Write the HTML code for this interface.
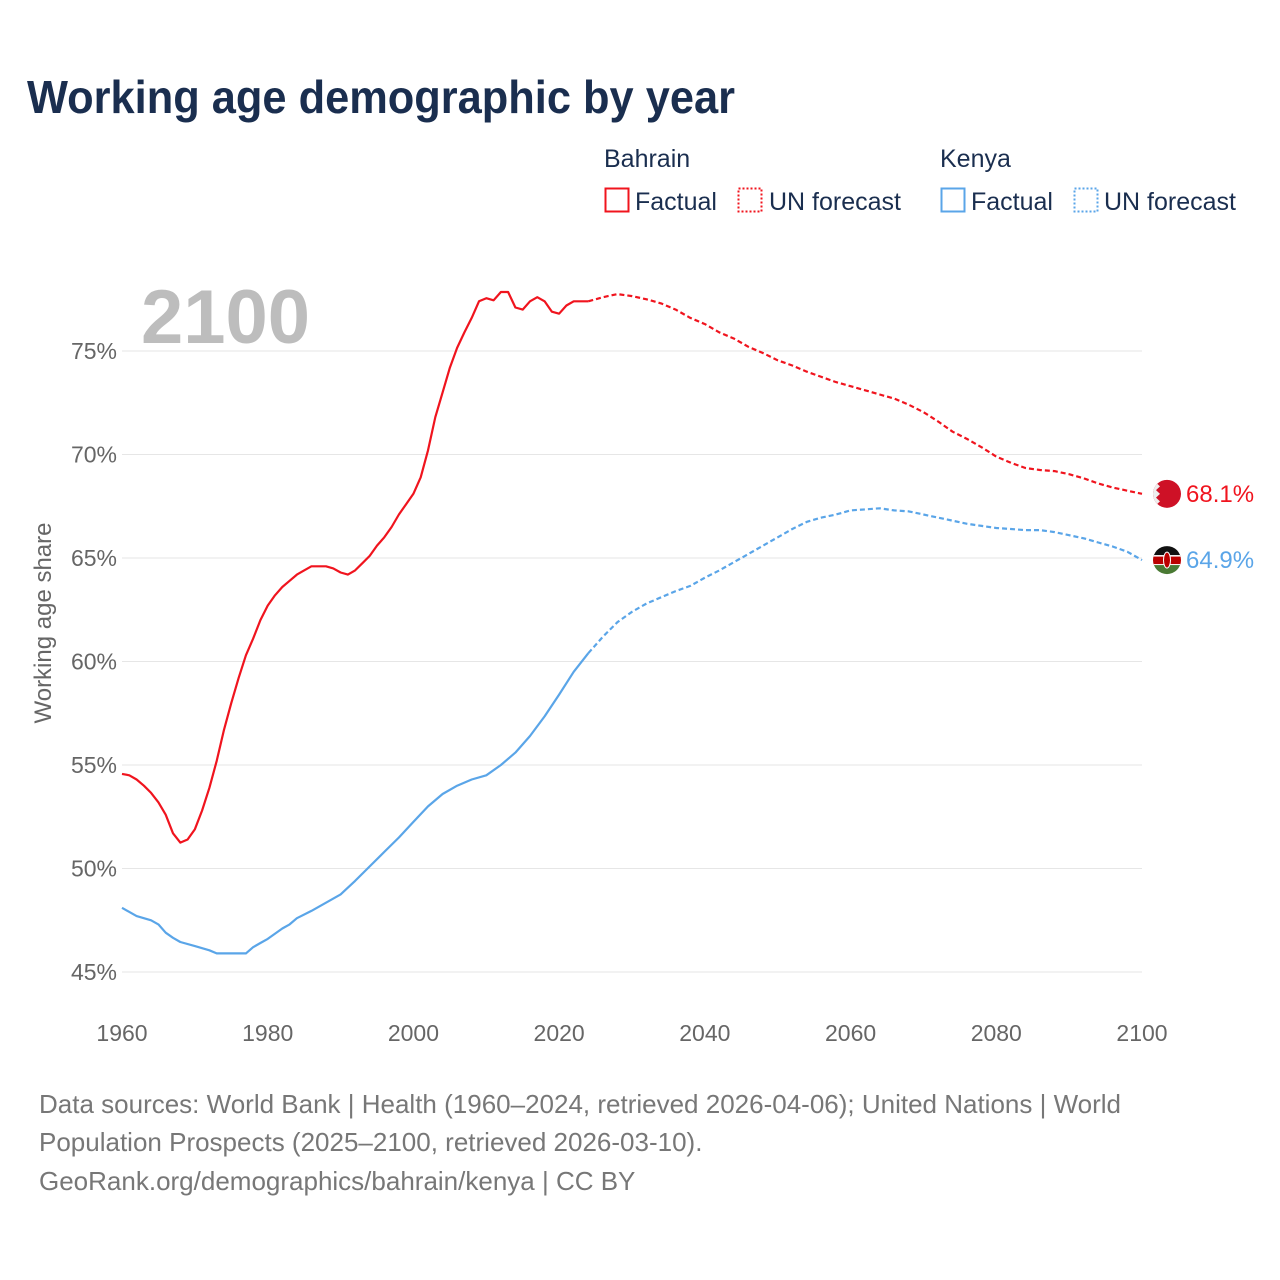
<!DOCTYPE html>
<html><head><meta charset="utf-8">
<style>
body{margin:0;background:#fff;font-family:"Liberation Sans",sans-serif;}
#wrap{position:relative;width:1280px;height:1280px;overflow:hidden;}
</style></head>
<body>
<div id="wrap">
<svg id="chart" width="1280" height="1280" xmlns="http://www.w3.org/2000/svg" font-family="Liberation Sans, sans-serif">
<text x="27" y="113" font-size="46" font-weight="bold" fill="#1a2e4f" textLength="708" lengthAdjust="spacingAndGlyphs">Working age demographic by year</text>
<g font-size="25" fill="#1a2e4f">
<text x="604" y="167">Bahrain</text>
<rect x="605.5" y="188.5" width="23" height="23" fill="none" stroke="#f0141e" stroke-width="2"/>
<text x="635" y="210">Factual</text>
<rect x="738.5" y="188.5" width="23" height="23" fill="none" stroke="#f0141e" stroke-width="2" stroke-dasharray="2,2"/>
<text x="769" y="210">UN forecast</text>
<text x="940" y="167">Kenya</text>
<rect x="941.5" y="188.5" width="23" height="23" fill="none" stroke="#5aa5e8" stroke-width="2"/>
<text x="971" y="210">Factual</text>
<rect x="1074.5" y="188.5" width="23" height="23" fill="none" stroke="#5aa5e8" stroke-width="2" stroke-dasharray="2,2"/>
<text x="1104" y="210">UN forecast</text>
</g>
<text x="141" y="343" font-size="76" font-weight="bold" fill="#bdbdbd">2100</text>
<text transform="translate(51,623) rotate(-90)" text-anchor="middle" font-size="24" fill="#666">Working age share</text>
<g id="grid"></g><g id="yt"></g><g id="xt"></g><g id="series"></g><g id="ends"></g>
<g font-size="26" fill="#777">
<text x="39" y="1113">Data sources: World Bank | Health (1960–2024, retrieved 2026-04-06); United Nations | World</text>
<text x="39" y="1151">Population Prospects (2025–2100, retrieved 2026-03-10).</text>
<text x="39" y="1190">GeoRank.org/demographics/bahrain/kenya | CC BY</text>
</g>
</svg>
</div>
<script>
const yTicks=[45,50,55,60,65,70,75];
const xTicks=[1960,1980,2000,2020,2040,2060,2080,2100];
const bahFactYears=[1960,1961,1962,1963,1964,1965,1966,1967,1968,1969,1970,1971,1972,1973,1974,1975,1976,1977,1978,1979,1980,1981,1982,1983,1984,1985,1986,1987,1988,1989,1990,1991,1992,1993,1994,1995,1996,1997,1998,1999,2000,2001,2002,2003,2004,2005,2006,2007,2008,2009,2010,2011,2012,2013,2014,2015,2016,2017,2018,2019,2020,2021,2022,2023,2024];
const bahFactVals=[54.57,54.5,54.3,54.0,53.65,53.2,52.6,51.7,51.25,51.4,51.9,52.8,53.9,55.2,56.7,58.0,59.2,60.3,61.1,62.0,62.7,63.2,63.6,63.9,64.2,64.4,64.6,64.6,64.6,64.5,64.3,64.2,64.4,64.75,65.1,65.6,66.0,66.5,67.1,67.6,68.1,68.9,70.2,71.8,73.0,74.2,75.15,75.9,76.6,77.4,77.55,77.45,77.85,77.85,77.1,77.0,77.4,77.6,77.4,76.9,76.8,77.2,77.4,77.4,77.4];
const bahFcYears=[2024,2026,2028,2030,2032,2034,2036,2038,2040,2042,2044,2046,2048,2050,2052,2054,2056,2058,2060,2062,2064,2066,2068,2070,2072,2074,2076,2078,2080,2082,2084,2086,2088,2090,2092,2094,2096,2098,2100];
const bahFcVals=[77.4,77.6,77.75,77.65,77.5,77.3,77.0,76.6,76.3,75.9,75.6,75.2,74.9,74.55,74.3,74.0,73.75,73.5,73.3,73.1,72.9,72.7,72.4,72.05,71.6,71.1,70.75,70.35,69.9,69.6,69.35,69.25,69.2,69.05,68.85,68.6,68.4,68.25,68.1];
const kenFactYears=[1960,1962,1964,1965,1966,1967,1968,1970,1972,1973,1975,1977,1978,1979,1980,1982,1983,1984,1986,1988,1990,1992,1994,1996,1998,2000,2002,2004,2006,2008,2010,2012,2014,2016,2018,2020,2022,2024];
const kenFactVals=[48.1,47.7,47.5,47.3,46.9,46.65,46.45,46.25,46.05,45.9,45.9,45.9,46.2,46.4,46.6,47.1,47.3,47.6,47.95,48.35,48.75,49.4,50.1,50.8,51.5,52.25,53.0,53.6,54.0,54.3,54.5,55.0,55.6,56.4,57.35,58.4,59.5,60.4];
const kenFcYears=[2024,2026,2028,2030,2032,2034,2036,2038,2040,2042,2044,2046,2048,2050,2052,2054,2056,2058,2060,2062,2064,2066,2068,2070,2072,2074,2076,2078,2080,2082,2084,2086,2088,2090,2092,2094,2096,2098,2100];
const kenFcVals=[60.4,61.2,61.9,62.4,62.8,63.1,63.4,63.65,64.05,64.4,64.8,65.2,65.6,66.0,66.4,66.75,66.95,67.1,67.3,67.35,67.4,67.3,67.25,67.1,66.95,66.8,66.65,66.55,66.45,66.4,66.35,66.35,66.25,66.1,65.95,65.75,65.55,65.3,64.9];

const NS="http://www.w3.org/2000/svg";
const X=y=>122+(y-1960)*(1020/140);
const Y=v=>351+(75-v)*20.7;
function mk(tag,attrs,parent){const e=document.createElementNS(NS,tag);for(const k in attrs)e.setAttribute(k,attrs[k]);document.getElementById(parent).appendChild(e);return e;}
yTicks.forEach(t=>{
  const l=mk('line',{x1:122,x2:1142,y1:Y(t),y2:Y(t),stroke:'#e6e6e6','stroke-width':1},'grid');
  
  
  const tx=mk('text',{x:117,y:Y(t)+8,'text-anchor':'end','font-size':23,fill:'#666'},'yt');
  tx.textContent=t+'%';
  
  
});
xTicks.forEach(t=>{
  const tx=mk('text',{x:X(t),y:1041,'text-anchor':'middle','font-size':23,fill:'#666'},'xt');
  tx.textContent=t;
  
  
});
function line(ys,vs,color,dash,name){
  const d=ys.map((y,i)=>(i?'L':'M')+X(y).toFixed(1)+' '+Y(vs[i]).toFixed(1)).join(' ');
  const p=mk('path',{d:d,fill:'none',stroke:color,'stroke-width':2.2,'stroke-dasharray':dash,'stroke-linejoin':'round'},'series');
  
  
}
line(bahFactYears,bahFactVals,'#f0141e','none','bahrain-factual-line');
line(bahFcYears,bahFcVals,'#f0141e','5,3','bahrain-forecast-line');
line(kenFactYears,kenFactVals,'#5aa5e8','none','kenya-factual-line');
line(kenFcYears,kenFcVals,'#5aa5e8','5,3','kenya-forecast-line');

const bEnd=bahFcVals[bahFcVals.length-1], kEnd=kenFcVals[kenFcVals.length-1];
const ends=document.getElementById('ends');
ends.innerHTML=`
<defs><clipPath id="cb"><circle cx="1167" cy="${Y(bEnd)}" r="14"/></clipPath><clipPath id="ck"><circle cx="1167" cy="${Y(kEnd)}" r="14"/></clipPath></defs>
<g clip-path="url(#cb)"><rect x="1150" y="${Y(bEnd)-15}" width="34" height="30" fill="#ce1126"/><path d="M1150 ${Y(bEnd)-15} h10 l-4 3.75 l4 3.75 l-4 3.75 l4 3.75 l-4 3.75 l4 3.75 l-4 3.75 l4 3.75 h-10z" fill="#eee"/></g>
<text x="1186" y="${Y(bEnd)+8}" font-size="24" fill="#f0141e">${bEnd.toFixed(1)}%</text>
<g clip-path="url(#ck)"><rect x="1150" y="${Y(kEnd)-15}" width="34" height="11" fill="#111"/><rect x="1150" y="${Y(kEnd)-4}" width="34" height="9" fill="#b00"/><rect x="1150" y="${Y(kEnd)-5}" width="34" height="1.5" fill="#fff"/><rect x="1150" y="${Y(kEnd)+4}" width="34" height="1.5" fill="#fff"/><rect x="1150" y="${Y(kEnd)+5}" width="34" height="11" fill="#4a7a34"/><ellipse cx="1167" cy="${Y(kEnd)}" rx="3.5" ry="8" fill="#b00" stroke="#fff" stroke-width="1"/></g>
<text x="1186" y="${Y(kEnd)+8}" font-size="24" fill="#5aa5e8">${kEnd.toFixed(1)}%</text>`;
</script>
</body></html>
